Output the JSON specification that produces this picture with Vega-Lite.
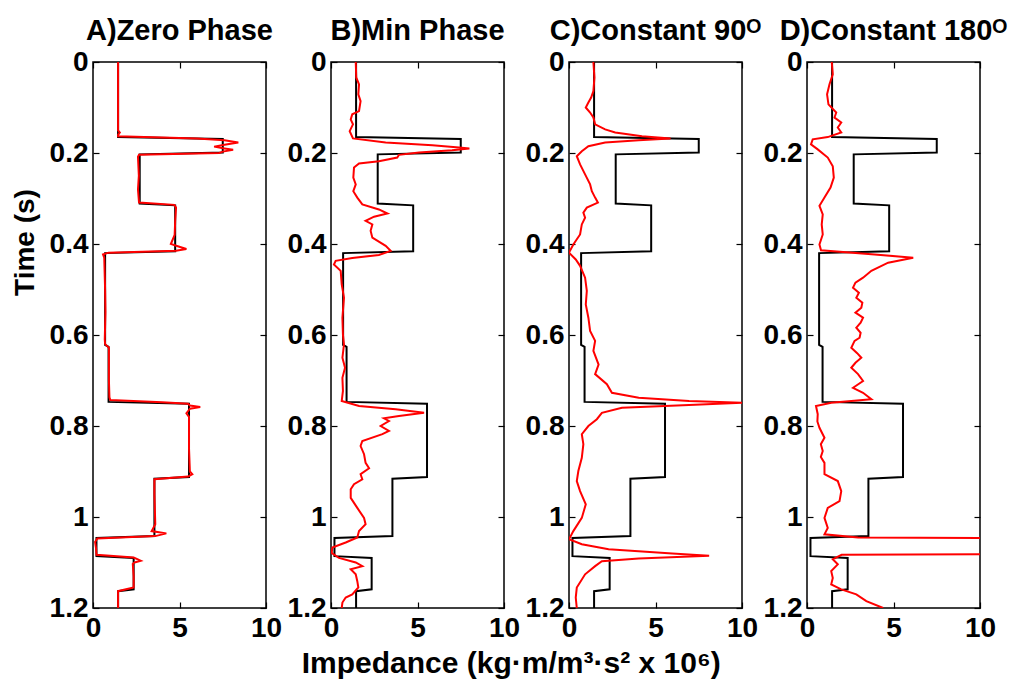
{
  "$schema": "https://vega.github.io/schema/vega-lite/v6.json",
  "background": "white",
  "padding": {"left": 10, "top": 16, "right": 5, "bottom": 0},
  "bounds": "flush",
  "spacing": 65,
  "title": {"text": "Impedance (kg·m/m³·s² x 10⁶)", "orient": "bottom", "anchor": "middle", "fontSize": 30, "fontWeight": "bold", "color": "black", "font": "Liberation Sans", "offset": 6, "dx": 2},
  "datasets": {
    "black": [
      {"t": 0.0, "v": 1.45}, {"t": 0.165, "v": 1.45}, {"t": 0.169, "v": 7.5}, {"t": 0.199, "v": 7.5},
      {"t": 0.203, "v": 2.7}, {"t": 0.311, "v": 2.7}, {"t": 0.315, "v": 4.75}, {"t": 0.416, "v": 4.75},
      {"t": 0.42, "v": 0.7}, {"t": 0.622, "v": 0.7}, {"t": 0.626, "v": 0.9}, {"t": 0.747, "v": 0.9},
      {"t": 0.751, "v": 5.55}, {"t": 0.912, "v": 5.55}, {"t": 0.916, "v": 3.55}, {"t": 1.042, "v": 3.55},
      {"t": 1.046, "v": 0.2}, {"t": 1.086, "v": 0.2}, {"t": 1.09, "v": 2.35}, {"t": 1.159, "v": 2.35},
      {"t": 1.163, "v": 1.45}, {"t": 1.2, "v": 1.45}
    ],
    "red": [
      {"p": "A", "t": 0.0, "v": 1.45}, {"p": "A", "t": 0.15, "v": 1.45}, {"p": "A", "t": 0.155, "v": 1.55}, {"p": "A", "t": 0.16, "v": 1.45},
      {"p": "A", "t": 0.163, "v": 1.45}, {"p": "A", "t": 0.168, "v": 6.0}, {"p": "A", "t": 0.172, "v": 7.6}, {"p": "A", "t": 0.177, "v": 8.4},
      {"p": "A", "t": 0.182, "v": 7.6}, {"p": "A", "t": 0.186, "v": 7.0}, {"p": "A", "t": 0.19, "v": 7.6}, {"p": "A", "t": 0.193, "v": 8.1},
      {"p": "A", "t": 0.197, "v": 7.5}, {"p": "A", "t": 0.2, "v": 7.3}, {"p": "A", "t": 0.204, "v": 2.66}, {"p": "A", "t": 0.208, "v": 2.6},
      {"p": "A", "t": 0.25, "v": 2.65}, {"p": "A", "t": 0.28, "v": 2.6}, {"p": "A", "t": 0.309, "v": 2.66}, {"p": "A", "t": 0.314, "v": 4.7},
      {"p": "A", "t": 0.32, "v": 4.8}, {"p": "A", "t": 0.35, "v": 4.75}, {"p": "A", "t": 0.38, "v": 4.72}, {"p": "A", "t": 0.4, "v": 4.5},
      {"p": "A", "t": 0.405, "v": 4.9}, {"p": "A", "t": 0.411, "v": 5.4}, {"p": "A", "t": 0.415, "v": 4.8}, {"p": "A", "t": 0.419, "v": 0.9},
      {"p": "A", "t": 0.423, "v": 0.58}, {"p": "A", "t": 0.43, "v": 0.65}, {"p": "A", "t": 0.5, "v": 0.7}, {"p": "A", "t": 0.55, "v": 0.72},
      {"p": "A", "t": 0.61, "v": 0.68}, {"p": "A", "t": 0.62, "v": 0.7}, {"p": "A", "t": 0.628, "v": 0.92}, {"p": "A", "t": 0.7, "v": 0.92},
      {"p": "A", "t": 0.737, "v": 0.95}, {"p": "A", "t": 0.743, "v": 1.0}, {"p": "A", "t": 0.748, "v": 4.0}, {"p": "A", "t": 0.751, "v": 5.5},
      {"p": "A", "t": 0.755, "v": 5.6}, {"p": "A", "t": 0.758, "v": 6.2}, {"p": "A", "t": 0.762, "v": 5.6}, {"p": "A", "t": 0.767, "v": 5.5},
      {"p": "A", "t": 0.772, "v": 5.4}, {"p": "A", "t": 0.78, "v": 5.55}, {"p": "A", "t": 0.85, "v": 5.55}, {"p": "A", "t": 0.9, "v": 5.6},
      {"p": "A", "t": 0.906, "v": 5.74}, {"p": "A", "t": 0.911, "v": 5.5}, {"p": "A", "t": 0.917, "v": 3.55}, {"p": "A", "t": 0.95, "v": 3.55},
      {"p": "A", "t": 1.016, "v": 3.6}, {"p": "A", "t": 1.031, "v": 3.39}, {"p": "A", "t": 1.036, "v": 4.24}, {"p": "A", "t": 1.042, "v": 3.6},
      {"p": "A", "t": 1.047, "v": 0.25}, {"p": "A", "t": 1.055, "v": 0.12}, {"p": "A", "t": 1.07, "v": 0.18}, {"p": "A", "t": 1.083, "v": 0.2},
      {"p": "A", "t": 1.089, "v": 2.35}, {"p": "A", "t": 1.096, "v": 2.76}, {"p": "A", "t": 1.1, "v": 2.4}, {"p": "A", "t": 1.103, "v": 2.3},
      {"p": "A", "t": 1.13, "v": 2.35}, {"p": "A", "t": 1.155, "v": 2.35}, {"p": "A", "t": 1.163, "v": 1.45}, {"p": "A", "t": 1.2, "v": 1.45},

      {"p": "B", "t": 0.0, "v": 1.43}, {"p": "B", "t": 0.034, "v": 1.46}, {"p": "B", "t": 0.049, "v": 1.62}, {"p": "B", "t": 0.071, "v": 1.58},
      {"p": "B", "t": 0.086, "v": 1.71}, {"p": "B", "t": 0.108, "v": 1.62}, {"p": "B", "t": 0.115, "v": 1.23}, {"p": "B", "t": 0.126, "v": 1.14},
      {"p": "B", "t": 0.137, "v": 1.27}, {"p": "B", "t": 0.152, "v": 1.08}, {"p": "B", "t": 0.168, "v": 1.27}, {"p": "B", "t": 0.177, "v": 3.16},
      {"p": "B", "t": 0.183, "v": 5.86}, {"p": "B", "t": 0.188, "v": 7.4}, {"p": "B", "t": 0.19, "v": 8.0}, {"p": "B", "t": 0.194, "v": 7.0},
      {"p": "B", "t": 0.199, "v": 5.09}, {"p": "B", "t": 0.204, "v": 3.93}, {"p": "B", "t": 0.21, "v": 3.83}, {"p": "B", "t": 0.218, "v": 2.77},
      {"p": "B", "t": 0.223, "v": 1.62}, {"p": "B", "t": 0.232, "v": 1.33}, {"p": "B", "t": 0.254, "v": 1.29}, {"p": "B", "t": 0.269, "v": 1.43},
      {"p": "B", "t": 0.284, "v": 1.29}, {"p": "B", "t": 0.298, "v": 1.52}, {"p": "B", "t": 0.313, "v": 1.81}, {"p": "B", "t": 0.324, "v": 2.77},
      {"p": "B", "t": 0.333, "v": 3.26}, {"p": "B", "t": 0.34, "v": 2.49}, {"p": "B", "t": 0.349, "v": 2.0}, {"p": "B", "t": 0.357, "v": 2.39},
      {"p": "B", "t": 0.371, "v": 2.29}, {"p": "B", "t": 0.386, "v": 2.39}, {"p": "B", "t": 0.404, "v": 3.16}, {"p": "B", "t": 0.415, "v": 3.45},
      {"p": "B", "t": 0.424, "v": 2.77}, {"p": "B", "t": 0.431, "v": 1.23}, {"p": "B", "t": 0.437, "v": 0.27}, {"p": "B", "t": 0.445, "v": 0.17},
      {"p": "B", "t": 0.459, "v": 0.56}, {"p": "B", "t": 0.489, "v": 0.62}, {"p": "B", "t": 0.518, "v": 0.75}, {"p": "B", "t": 0.562, "v": 0.66},
      {"p": "B", "t": 0.599, "v": 0.69}, {"p": "B", "t": 0.621, "v": 0.75}, {"p": "B", "t": 0.65, "v": 0.66}, {"p": "B", "t": 0.672, "v": 0.81},
      {"p": "B", "t": 0.694, "v": 0.66}, {"p": "B", "t": 0.723, "v": 0.69}, {"p": "B", "t": 0.745, "v": 0.62}, {"p": "B", "t": 0.756, "v": 1.62},
      {"p": "B", "t": 0.763, "v": 3.74}, {"p": "B", "t": 0.771, "v": 5.38}, {"p": "B", "t": 0.778, "v": 3.93}, {"p": "B", "t": 0.783, "v": 3.06},
      {"p": "B", "t": 0.789, "v": 3.35}, {"p": "B", "t": 0.8, "v": 2.87}, {"p": "B", "t": 0.811, "v": 3.35}, {"p": "B", "t": 0.818, "v": 2.97},
      {"p": "B", "t": 0.833, "v": 1.81}, {"p": "B", "t": 0.844, "v": 1.71}, {"p": "B", "t": 0.862, "v": 1.91}, {"p": "B", "t": 0.881, "v": 2.0},
      {"p": "B", "t": 0.893, "v": 2.2}, {"p": "B", "t": 0.906, "v": 1.71}, {"p": "B", "t": 0.917, "v": 1.81}, {"p": "B", "t": 0.928, "v": 1.33},
      {"p": "B", "t": 0.939, "v": 1.14}, {"p": "B", "t": 0.958, "v": 1.14}, {"p": "B", "t": 0.98, "v": 1.52}, {"p": "B", "t": 1.002, "v": 1.91},
      {"p": "B", "t": 1.016, "v": 2.0}, {"p": "B", "t": 1.031, "v": 1.62}, {"p": "B", "t": 1.045, "v": 1.52}, {"p": "B", "t": 1.056, "v": 0.85},
      {"p": "B", "t": 1.067, "v": 0.08}, {"p": "B", "t": 1.079, "v": 0.04}, {"p": "B", "t": 1.09, "v": 0.46}, {"p": "B", "t": 1.1, "v": 1.43},
      {"p": "B", "t": 1.108, "v": 1.81}, {"p": "B", "t": 1.115, "v": 1.14}, {"p": "B", "t": 1.126, "v": 1.43}, {"p": "B", "t": 1.141, "v": 1.52},
      {"p": "B", "t": 1.155, "v": 1.58}, {"p": "B", "t": 1.17, "v": 1.23}, {"p": "B", "t": 1.177, "v": 0.85}, {"p": "B", "t": 1.188, "v": 0.66},
      {"p": "B", "t": 1.2, "v": 0.62},

      {"p": "C", "t": 0.0, "v": 1.41}, {"p": "C", "t": 0.034, "v": 1.47}, {"p": "C", "t": 0.064, "v": 1.41}, {"p": "C", "t": 0.078, "v": 1.28},
      {"p": "C", "t": 0.089, "v": 1.12}, {"p": "C", "t": 0.1, "v": 0.97}, {"p": "C", "t": 0.111, "v": 1.22}, {"p": "C", "t": 0.122, "v": 1.41},
      {"p": "C", "t": 0.137, "v": 1.51}, {"p": "C", "t": 0.148, "v": 2.09}, {"p": "C", "t": 0.155, "v": 2.67}, {"p": "C", "t": 0.163, "v": 4.22},
      {"p": "C", "t": 0.168, "v": 5.87}, {"p": "C", "t": 0.172, "v": 4.03}, {"p": "C", "t": 0.177, "v": 2.09}, {"p": "C", "t": 0.185, "v": 1.12},
      {"p": "C", "t": 0.196, "v": 0.74}, {"p": "C", "t": 0.207, "v": 0.45}, {"p": "C", "t": 0.225, "v": 0.64}, {"p": "C", "t": 0.247, "v": 0.93},
      {"p": "C", "t": 0.269, "v": 1.22}, {"p": "C", "t": 0.284, "v": 1.32}, {"p": "C", "t": 0.298, "v": 1.51}, {"p": "C", "t": 0.309, "v": 1.67},
      {"p": "C", "t": 0.32, "v": 1.03}, {"p": "C", "t": 0.331, "v": 0.83}, {"p": "C", "t": 0.342, "v": 0.93}, {"p": "C", "t": 0.357, "v": 0.74},
      {"p": "C", "t": 0.379, "v": 0.64}, {"p": "C", "t": 0.401, "v": 0.25}, {"p": "C", "t": 0.419, "v": 0.0}, {"p": "C", "t": 0.434, "v": 0.39},
      {"p": "C", "t": 0.448, "v": 0.64}, {"p": "C", "t": 0.474, "v": 0.93}, {"p": "C", "t": 0.503, "v": 1.03}, {"p": "C", "t": 0.533, "v": 0.97},
      {"p": "C", "t": 0.562, "v": 1.12}, {"p": "C", "t": 0.591, "v": 1.22}, {"p": "C", "t": 0.613, "v": 1.51}, {"p": "C", "t": 0.635, "v": 1.41},
      {"p": "C", "t": 0.665, "v": 1.71}, {"p": "C", "t": 0.686, "v": 1.51}, {"p": "C", "t": 0.708, "v": 2.19}, {"p": "C", "t": 0.727, "v": 2.48},
      {"p": "C", "t": 0.738, "v": 4.03}, {"p": "C", "t": 0.745, "v": 6.94}, {"p": "C", "t": 0.749, "v": 10.0}, {"p": "C", "t": 0.754, "v": 6.94},
      {"p": "C", "t": 0.76, "v": 3.06}, {"p": "C", "t": 0.771, "v": 1.9}, {"p": "C", "t": 0.785, "v": 1.61}, {"p": "C", "t": 0.8, "v": 1.12},
      {"p": "C", "t": 0.818, "v": 0.74}, {"p": "C", "t": 0.84, "v": 0.83}, {"p": "C", "t": 0.87, "v": 0.74}, {"p": "C", "t": 0.899, "v": 0.54},
      {"p": "C", "t": 0.921, "v": 0.45}, {"p": "C", "t": 0.943, "v": 0.64}, {"p": "C", "t": 0.972, "v": 0.97}, {"p": "C", "t": 1.002, "v": 0.74},
      {"p": "C", "t": 1.031, "v": 0.25}, {"p": "C", "t": 1.049, "v": 0.0}, {"p": "C", "t": 1.06, "v": 0.74}, {"p": "C", "t": 1.071, "v": 2.29},
      {"p": "C", "t": 1.08, "v": 5.97}, {"p": "C", "t": 1.085, "v": 8.1}, {"p": "C", "t": 1.091, "v": 4.03}, {"p": "C", "t": 1.097, "v": 1.9},
      {"p": "C", "t": 1.108, "v": 1.51}, {"p": "C", "t": 1.126, "v": 0.93}, {"p": "C", "t": 1.155, "v": 0.45}, {"p": "C", "t": 1.177, "v": 0.39},
      {"p": "C", "t": 1.2, "v": 0.45},

      {"p": "D", "t": 0.0, "v": 1.43}, {"p": "D", "t": 0.027, "v": 1.49}, {"p": "D", "t": 0.049, "v": 1.3}, {"p": "D", "t": 0.071, "v": 1.16},
      {"p": "D", "t": 0.093, "v": 1.24}, {"p": "D", "t": 0.111, "v": 1.69}, {"p": "D", "t": 0.122, "v": 1.59}, {"p": "D", "t": 0.133, "v": 1.98},
      {"p": "D", "t": 0.144, "v": 1.78}, {"p": "D", "t": 0.155, "v": 1.98}, {"p": "D", "t": 0.165, "v": 1.2}, {"p": "D", "t": 0.17, "v": 0.33},
      {"p": "D", "t": 0.181, "v": 0.23}, {"p": "D", "t": 0.192, "v": 0.62}, {"p": "D", "t": 0.21, "v": 1.2}, {"p": "D", "t": 0.229, "v": 1.49},
      {"p": "D", "t": 0.254, "v": 1.55}, {"p": "D", "t": 0.276, "v": 1.36}, {"p": "D", "t": 0.298, "v": 1.01}, {"p": "D", "t": 0.316, "v": 0.72},
      {"p": "D", "t": 0.335, "v": 0.91}, {"p": "D", "t": 0.357, "v": 0.85}, {"p": "D", "t": 0.379, "v": 0.91}, {"p": "D", "t": 0.401, "v": 0.72},
      {"p": "D", "t": 0.414, "v": 0.81}, {"p": "D", "t": 0.423, "v": 3.91}, {"p": "D", "t": 0.43, "v": 6.14}, {"p": "D", "t": 0.441, "v": 4.69},
      {"p": "D", "t": 0.459, "v": 3.72}, {"p": "D", "t": 0.474, "v": 3.24}, {"p": "D", "t": 0.485, "v": 2.8}, {"p": "D", "t": 0.496, "v": 2.66},
      {"p": "D", "t": 0.507, "v": 3.0}, {"p": "D", "t": 0.518, "v": 2.85}, {"p": "D", "t": 0.529, "v": 3.2}, {"p": "D", "t": 0.54, "v": 3.14},
      {"p": "D", "t": 0.551, "v": 2.8}, {"p": "D", "t": 0.562, "v": 3.24}, {"p": "D", "t": 0.573, "v": 3.1}, {"p": "D", "t": 0.584, "v": 2.85},
      {"p": "D", "t": 0.595, "v": 3.1}, {"p": "D", "t": 0.606, "v": 3.04}, {"p": "D", "t": 0.613, "v": 2.75}, {"p": "D", "t": 0.628, "v": 2.56},
      {"p": "D", "t": 0.64, "v": 2.9}, {"p": "D", "t": 0.65, "v": 3.14}, {"p": "D", "t": 0.661, "v": 2.8}, {"p": "D", "t": 0.672, "v": 2.56},
      {"p": "D", "t": 0.686, "v": 2.95}, {"p": "D", "t": 0.701, "v": 3.24}, {"p": "D", "t": 0.716, "v": 2.66}, {"p": "D", "t": 0.727, "v": 3.24},
      {"p": "D", "t": 0.741, "v": 3.72}, {"p": "D", "t": 0.749, "v": 1.4}, {"p": "D", "t": 0.756, "v": 0.52}, {"p": "D", "t": 0.774, "v": 0.62},
      {"p": "D", "t": 0.79, "v": 0.6}, {"p": "D", "t": 0.804, "v": 0.72}, {"p": "D", "t": 0.826, "v": 1.01}, {"p": "D", "t": 0.84, "v": 0.8},
      {"p": "D", "t": 0.855, "v": 0.91}, {"p": "D", "t": 0.868, "v": 0.8}, {"p": "D", "t": 0.881, "v": 1.01}, {"p": "D", "t": 0.906, "v": 1.01},
      {"p": "D", "t": 0.921, "v": 1.78}, {"p": "D", "t": 0.943, "v": 1.98}, {"p": "D", "t": 0.965, "v": 1.88}, {"p": "D", "t": 0.98, "v": 1.2},
      {"p": "D", "t": 1.002, "v": 1.01}, {"p": "D", "t": 1.024, "v": 1.2}, {"p": "D", "t": 1.038, "v": 1.01}, {"p": "D", "t": 1.045, "v": 2.95},
      {"p": "D", "t": 1.05, "v": 40}, {"p": "D", "t": 1.078, "v": 40}, {"p": "D", "t": 1.083, "v": 2.0}, {"p": "D", "t": 1.093, "v": 1.49},
      {"p": "D", "t": 1.104, "v": 1.78}, {"p": "D", "t": 1.119, "v": 1.4}, {"p": "D", "t": 1.134, "v": 1.49}, {"p": "D", "t": 1.148, "v": 1.4},
      {"p": "D", "t": 1.159, "v": 1.98}, {"p": "D", "t": 1.17, "v": 2.85}, {"p": "D", "t": 1.185, "v": 3.43}, {"p": "D", "t": 1.2, "v": 4.4}
    ]
  },
  "hconcat": [
    {
      "width": 173, "height": 546,
      "title": {"text": "A)Zero Phase"},
      "layer": [
        {"data": {"name": "black"}, "mark": {"type": "line", "color": "black", "strokeWidth": 2},
         "encoding": {
           "x": {"field": "v", "type": "quantitative", "scale": {"domain": [0, 10]}, "axis": {"orient": "bottom", "values": [0, 5, 10], "title": null, "labelPadding": 12}},
           "y": {"field": "t", "type": "quantitative", "scale": {"domain": [0, 1.2], "reverse": true}, "axis": {"orient": "left", "values": [0, 0.2, 0.4, 0.6, 0.8, 1, 1.2], "title": "Time (s)", "labelPadding": 11, "titleY": 180}},
           "order": {"field": "t"}}},
        {"data": {"name": "red"}, "transform": [{"filter": "datum.p == 'A'"}], "mark": {"type": "line", "color": "red", "strokeWidth": 2, "clip": true},
         "encoding": {
           "x": {"field": "v", "type": "quantitative", "scale": {"domain": [0, 10]}, "axis": {"orient": "top", "values": [0, 5, 10], "labels": false, "title": null}},
           "y": {"field": "t", "type": "quantitative", "scale": {"domain": [0, 1.2], "reverse": true}, "axis": {"orient": "right", "values": [0, 0.2, 0.4, 0.6, 0.8, 1, 1.2], "labels": false, "title": null}},
           "order": {"field": "t"}}}
      ],
      "resolve": {"axis": {"x": "independent", "y": "independent"}}
    },
    {
      "width": 173, "height": 546,
      "title": {"text": "B)Min Phase"},
      "layer": [
        {"data": {"name": "black"}, "mark": {"type": "line", "color": "black", "strokeWidth": 2},
         "encoding": {
           "x": {"field": "v", "type": "quantitative", "scale": {"domain": [0, 10]}, "axis": {"orient": "bottom", "values": [0, 5, 10], "title": null, "labelPadding": 12}},
           "y": {"field": "t", "type": "quantitative", "scale": {"domain": [0, 1.2], "reverse": true}, "axis": {"orient": "left", "values": [0, 0.2, 0.4, 0.6, 0.8, 1, 1.2], "title": null, "labelPadding": 11}},
           "order": {"field": "t"}}},
        {"data": {"name": "red"}, "transform": [{"filter": "datum.p == 'B'"}], "mark": {"type": "line", "color": "red", "strokeWidth": 2, "clip": true},
         "encoding": {
           "x": {"field": "v", "type": "quantitative", "scale": {"domain": [0, 10]}, "axis": {"orient": "top", "values": [0, 5, 10], "labels": false, "title": null}},
           "y": {"field": "t", "type": "quantitative", "scale": {"domain": [0, 1.2], "reverse": true}, "axis": {"orient": "right", "values": [0, 0.2, 0.4, 0.6, 0.8, 1, 1.2], "labels": false, "title": null}},
           "order": {"field": "t"}}}
      ],
      "resolve": {"axis": {"x": "independent", "y": "independent"}}
    },
    {
      "width": 173, "height": 546,
      "title": {"text": "C)Constant 90ᴼ"},
      "layer": [
        {"data": {"name": "black"}, "mark": {"type": "line", "color": "black", "strokeWidth": 2},
         "encoding": {
           "x": {"field": "v", "type": "quantitative", "scale": {"domain": [0, 10]}, "axis": {"orient": "bottom", "values": [0, 5, 10], "title": null, "labelPadding": 12}},
           "y": {"field": "t", "type": "quantitative", "scale": {"domain": [0, 1.2], "reverse": true}, "axis": {"orient": "left", "values": [0, 0.2, 0.4, 0.6, 0.8, 1, 1.2], "title": null, "labelPadding": 11}},
           "order": {"field": "t"}}},
        {"data": {"name": "red"}, "transform": [{"filter": "datum.p == 'C'"}], "mark": {"type": "line", "color": "red", "strokeWidth": 2, "clip": true},
         "encoding": {
           "x": {"field": "v", "type": "quantitative", "scale": {"domain": [0, 10]}, "axis": {"orient": "top", "values": [0, 5, 10], "labels": false, "title": null}},
           "y": {"field": "t", "type": "quantitative", "scale": {"domain": [0, 1.2], "reverse": true}, "axis": {"orient": "right", "values": [0, 0.2, 0.4, 0.6, 0.8, 1, 1.2], "labels": false, "title": null}},
           "order": {"field": "t"}}}
      ],
      "resolve": {"axis": {"x": "independent", "y": "independent"}}
    },
    {
      "width": 173, "height": 546,
      "title": {"text": "D)Constant 180ᴼ"},
      "layer": [
        {"data": {"name": "black"}, "mark": {"type": "line", "color": "black", "strokeWidth": 2},
         "encoding": {
           "x": {"field": "v", "type": "quantitative", "scale": {"domain": [0, 10]}, "axis": {"orient": "bottom", "values": [0, 5, 10], "title": null, "labelPadding": 12}},
           "y": {"field": "t", "type": "quantitative", "scale": {"domain": [0, 1.2], "reverse": true}, "axis": {"orient": "left", "values": [0, 0.2, 0.4, 0.6, 0.8, 1, 1.2], "title": null, "labelPadding": 11}},
           "order": {"field": "t"}}},
        {"data": {"name": "red"}, "transform": [{"filter": "datum.p == 'D'"}], "mark": {"type": "line", "color": "red", "strokeWidth": 2, "clip": true},
         "encoding": {
           "x": {"field": "v", "type": "quantitative", "scale": {"domain": [0, 10]}, "axis": {"orient": "top", "values": [0, 5, 10], "labels": false, "title": null}},
           "y": {"field": "t", "type": "quantitative", "scale": {"domain": [0, 1.2], "reverse": true}, "axis": {"orient": "right", "values": [0, 0.2, 0.4, 0.6, 0.8, 1, 1.2], "labels": false, "title": null}},
           "order": {"field": "t"}}}
      ],
      "resolve": {"axis": {"x": "independent", "y": "independent"}}
    }
  ],
  "config": {
    "font": "Liberation Sans",
    "view": {"stroke": "black", "strokeWidth": 1.5},
    "axis": {"grid": false, "domain": false, "tickColor": "black", "tickSize": -6, "tickWidth": 1.2,
             "labelFontSize": 28, "labelFontWeight": "bold", "labelColor": "black", "labelFont": "Liberation Sans",
             "labelPadding": 5, "labelFlush": false, "labelOverlap": false, "format": "~r",
             "titleFontSize": 28, "titleFontWeight": "bold", "titleColor": "black", "titleFont": "Liberation Sans", "titlePadding": 10},
    "title": {"fontSize": 29, "fontWeight": "bold", "color": "black", "font": "Liberation Sans", "offset": 2}
  }
}
